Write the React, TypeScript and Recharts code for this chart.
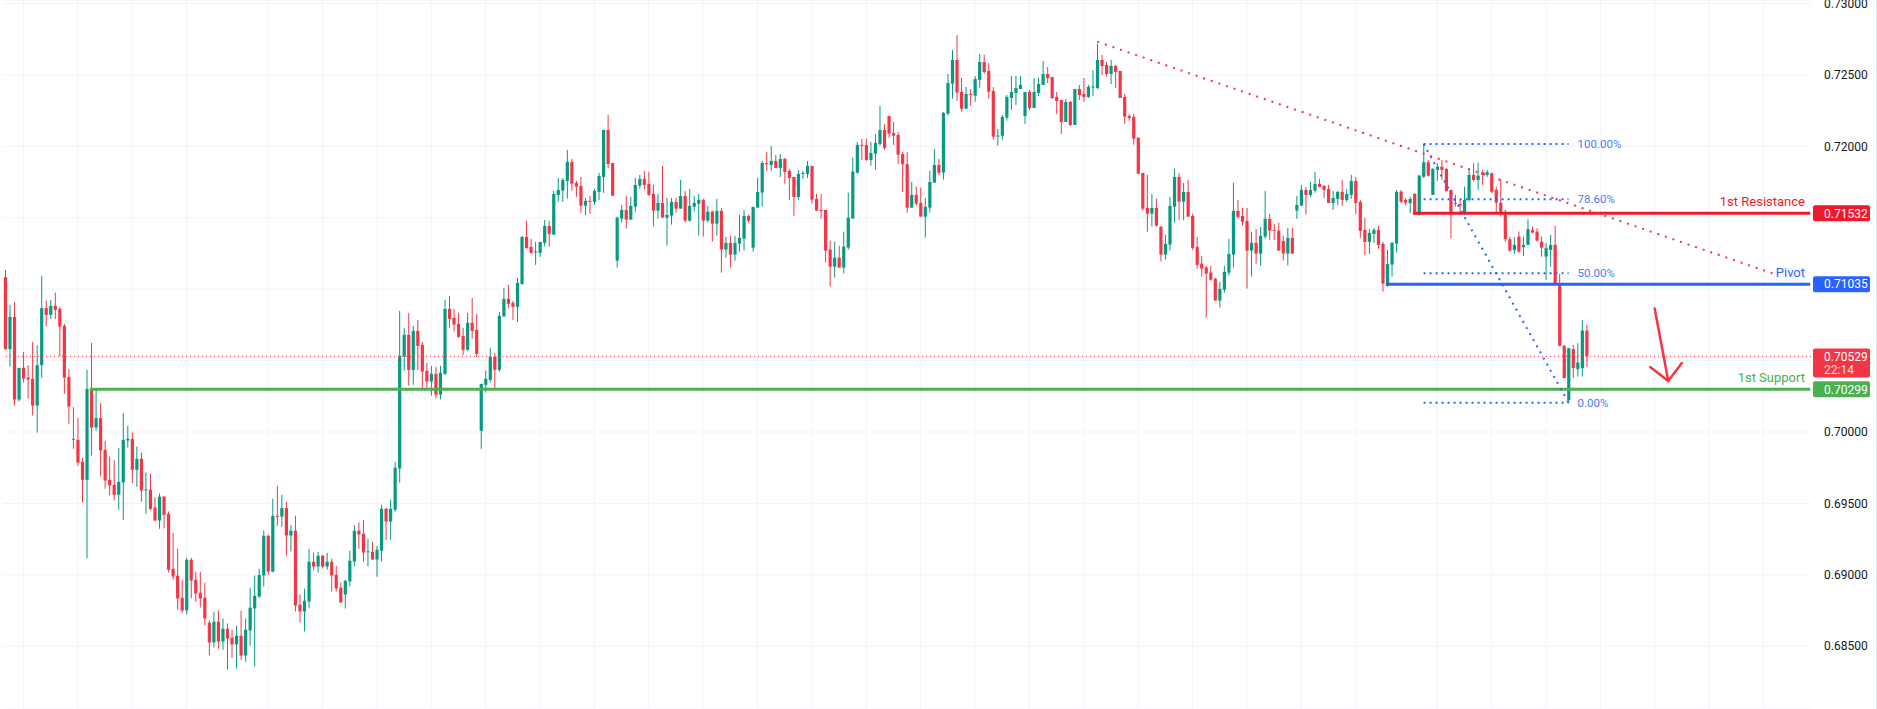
import React from "react";
import { ComposedChart, Bar, XAxis, YAxis, CartesianGrid, ReferenceLine } from "recharts";

// 2h candles, oldest first
const opens = [
  0.71084, 0.70580, 0.70806, 0.70227, 0.70449, 0.70381, 0.70372, 0.70185, 0.70468, 0.70867,
  0.70820, 0.70883, 0.70862, 0.70743, 0.70386, 0.69952, 0.69945, 0.69791, 0.69665, 0.70302,
  0.70031, 0.70097, 0.69875, 0.69665, 0.69630, 0.69560, 0.69646, 0.69940, 0.69950, 0.69735,
  0.69812, 0.69595, 0.69595, 0.69471, 0.69380, 0.69546, 0.69427, 0.69042, 0.68993, 0.68839,
  0.68750, 0.69105, 0.68965, 0.68874, 0.68839, 0.68664, 0.68526, 0.68671, 0.68533, 0.68622,
  0.68559, 0.68512, 0.68573, 0.68435, 0.68610, 0.68764, 0.68848, 0.68995, 0.69273, 0.69023,
  0.69413, 0.69408, 0.69467, 0.69275, 0.69308, 0.68790, 0.68743, 0.68813, 0.69091, 0.69058,
  0.69133, 0.69058, 0.69091, 0.69000, 0.68909, 0.68862, 0.68953, 0.69093, 0.69308, 0.69287,
  0.69161, 0.69161, 0.69107, 0.69168, 0.69462, 0.69373, 0.69455, 0.69744, 0.70528, 0.70680,
  0.70435, 0.70708, 0.70610, 0.70428, 0.70353, 0.70407, 0.70262, 0.70407, 0.70862, 0.70799,
  0.70757, 0.70673, 0.70575, 0.70764, 0.70715, 0.70008, 0.70330, 0.70365, 0.70528, 0.70435,
  0.70808, 0.70932, 0.70904, 0.70876, 0.71037, 0.71366, 0.71296, 0.71261, 0.71254, 0.71324,
  0.71443, 0.71382, 0.71660, 0.71690, 0.71758, 0.71891, 0.71744, 0.71723, 0.71585, 0.71618,
  0.71611, 0.71681, 0.71786, 0.72115, 0.71884, 0.71200, 0.71494, 0.71555, 0.71487, 0.71578,
  0.71725, 0.71772, 0.71737, 0.71667, 0.71550, 0.71604, 0.71501, 0.71515, 0.71611, 0.71564,
  0.71653, 0.71480, 0.71578, 0.71599, 0.71625, 0.71480, 0.71543, 0.71459, 0.71548, 0.71277,
  0.71324, 0.71242, 0.71319, 0.71354, 0.71513, 0.71291, 0.71571, 0.71676, 0.71884, 0.71870,
  0.71898, 0.71849, 0.71912, 0.71828, 0.71786, 0.71646, 0.71807, 0.71807, 0.71863, 0.71632,
  0.71555, 0.71555, 0.71277, 0.71158, 0.71221, 0.71151, 0.71291, 0.71494, 0.71816, 0.72010,
  0.72010, 0.71905, 0.71949, 0.72017, 0.72115, 0.72213, 0.72094, 0.72080, 0.71947, 0.71875,
  0.71571, 0.71660, 0.71604, 0.71508, 0.71571, 0.71746, 0.71870, 0.71816, 0.72229, 0.72439,
  0.72605, 0.72381, 0.72264, 0.72367, 0.72355, 0.72465, 0.72591, 0.72528, 0.72388, 0.72073,
  0.72075, 0.72201, 0.72339, 0.72374, 0.72402, 0.72213, 0.72381, 0.72269, 0.72374, 0.72430,
  0.72507, 0.72486, 0.72346, 0.72325, 0.72171, 0.72311, 0.72150, 0.72402, 0.72367, 0.72346,
  0.72416, 0.72409, 0.72605, 0.72570, 0.72507, 0.72563, 0.72528, 0.72346, 0.72213, 0.72206,
  0.72061, 0.71814, 0.71569, 0.71529, 0.71569, 0.71438, 0.71242, 0.71312, 0.71578, 0.71786,
  0.71613, 0.71681, 0.71513, 0.71296, 0.71179, 0.71151, 0.71116, 0.71072, 0.70920, 0.70997,
  0.71116, 0.71242, 0.71548, 0.71513, 0.71478, 0.71270, 0.71324, 0.71249, 0.71368, 0.71492,
  0.71415, 0.71410, 0.71338, 0.71249, 0.71359, 0.71550, 0.71585, 0.71695, 0.71660, 0.71690,
  0.71737, 0.71723, 0.71702, 0.71604, 0.71632, 0.71681, 0.71625, 0.71660, 0.71758, 0.71611,
  0.71415, 0.71331, 0.71387, 0.71415, 0.71317, 0.71025, 0.71172, 0.71319, 0.71683, 0.71625,
  0.71602, 0.71667, 0.71520, 0.71788, 0.71889, 0.71660, 0.71840, 0.71858, 0.71842, 0.71695,
  0.71604, 0.71597, 0.71532, 0.71625, 0.71800, 0.71765, 0.71819, 0.71800, 0.71812, 0.71695,
  0.71606, 0.71520, 0.71350, 0.71275, 0.71368, 0.71294, 0.71310, 0.71415, 0.71403, 0.71333,
  0.71228, 0.71275, 0.71310, 0.71030, 0.70603, 0.70225, 0.70580, 0.70440, 0.70447, 0.70710,
];

const highs = [
  0.71135, 0.70890, 0.70909, 0.70449, 0.70561, 0.70468, 0.70631, 0.70608, 0.71093, 0.70920,
  0.70925, 0.70976, 0.70878, 0.70757, 0.70442, 0.70174, 0.70097, 0.69819, 0.70435, 0.70624,
  0.70295, 0.70202, 0.69938, 0.69828, 0.69805, 0.69889, 0.70132, 0.70043, 0.69996, 0.69898,
  0.69856, 0.69716, 0.69707, 0.69544, 0.69569, 0.69553, 0.69443, 0.69294, 0.69182, 0.68965,
  0.69119, 0.69119, 0.69021, 0.69021, 0.68944, 0.68680, 0.68741, 0.68750, 0.68694, 0.68659,
  0.68615, 0.68643, 0.68748, 0.68694, 0.68909, 0.68995, 0.69042, 0.69310, 0.69280, 0.69532,
  0.69623, 0.69560, 0.69511, 0.69348, 0.69413, 0.68860, 0.68902, 0.69182, 0.69154, 0.69161,
  0.69140, 0.69154, 0.69112, 0.69063, 0.68946, 0.68965, 0.69168, 0.69348, 0.69366, 0.69385,
  0.69252, 0.69231, 0.69203, 0.69490, 0.69469, 0.69525, 0.69791, 0.70848, 0.70729, 0.70834,
  0.70743, 0.70785, 0.70631, 0.70484, 0.70463, 0.70456, 0.70463, 0.70925, 0.70953, 0.70862,
  0.70834, 0.70729, 0.70834, 0.70939, 0.70827, 0.70337, 0.70428, 0.70589, 0.70554, 0.70841,
  0.71009, 0.71030, 0.70918, 0.71079, 0.71373, 0.71478, 0.71352, 0.71331, 0.71331, 0.71485,
  0.71478, 0.71688, 0.71779, 0.71779, 0.71975, 0.71912, 0.71758, 0.71786, 0.71639, 0.71653,
  0.71702, 0.71814, 0.72115, 0.72220, 0.71884, 0.71508, 0.71590, 0.71653, 0.71646, 0.71779,
  0.71800, 0.71828, 0.71821, 0.71730, 0.71667, 0.71863, 0.71639, 0.71639, 0.71639, 0.71765,
  0.71688, 0.71702, 0.71653, 0.71667, 0.71632, 0.71583, 0.71550, 0.71632, 0.71569, 0.71366,
  0.71373, 0.71373, 0.71520, 0.71555, 0.71520, 0.71576, 0.71779, 0.71898, 0.71961, 0.72003,
  0.71940, 0.71947, 0.71919, 0.71842, 0.71786, 0.71835, 0.71828, 0.71898, 0.71863, 0.71667,
  0.71667, 0.71555, 0.71340, 0.71333, 0.71305, 0.71403, 0.71676, 0.71921, 0.72031, 0.72052,
  0.72052, 0.72031, 0.72087, 0.72283, 0.72157, 0.72213, 0.72171, 0.72101, 0.71961, 0.71961,
  0.71751, 0.71718, 0.71711, 0.71639, 0.71828, 0.71982, 0.71912, 0.72241, 0.72507, 0.72675,
  0.72780, 0.72479, 0.72416, 0.72402, 0.72493, 0.72647, 0.72640, 0.72584, 0.72416, 0.72122,
  0.72220, 0.72360, 0.72493, 0.72493, 0.72493, 0.72381, 0.72395, 0.72479, 0.72479, 0.72598,
  0.72556, 0.72486, 0.72381, 0.72325, 0.72332, 0.72318, 0.72402, 0.72430, 0.72479, 0.72430,
  0.72535, 0.72717, 0.72640, 0.72591, 0.72605, 0.72570, 0.72528, 0.72367, 0.72227, 0.72227,
  0.72061, 0.71814, 0.71800, 0.71667, 0.71632, 0.71438, 0.71380, 0.71646, 0.71842, 0.71814,
  0.71744, 0.71765, 0.71527, 0.71366, 0.71233, 0.71163, 0.71163, 0.71081, 0.71051, 0.71163,
  0.71352, 0.71744, 0.71625, 0.71569, 0.71569, 0.71403, 0.71422, 0.71436, 0.71688, 0.71527,
  0.71457, 0.71466, 0.71373, 0.71429, 0.71429, 0.71653, 0.71730, 0.71716, 0.71751, 0.71821,
  0.71772, 0.71730, 0.71730, 0.71688, 0.71688, 0.71765, 0.71702, 0.71800, 0.71786, 0.71625,
  0.71499, 0.71422, 0.71429, 0.71443, 0.71331, 0.71275, 0.71331, 0.71695, 0.71695, 0.71637,
  0.71648, 0.71672, 0.71800, 0.72017, 0.71905, 0.71847, 0.71882, 0.71905, 0.71847, 0.71695,
  0.71660, 0.71625, 0.71718, 0.71847, 0.71882, 0.71886, 0.71835, 0.71835, 0.71816, 0.71718,
  0.71770, 0.71555, 0.71368, 0.71364, 0.71403, 0.71368, 0.71490, 0.71438, 0.71427, 0.71368,
  0.71322, 0.71380, 0.71443, 0.71107, 0.70610, 0.70587, 0.70610, 0.70622, 0.70785, 0.70750,
];

const lows = [
  0.70575, 0.70458, 0.70185, 0.70213, 0.70346, 0.70234, 0.70115, 0.69996, 0.70381, 0.70738,
  0.70792, 0.70790, 0.70528, 0.70267, 0.70057, 0.69882, 0.69763, 0.69506, 0.69114, 0.69835,
  0.70008, 0.69688, 0.69602, 0.69555, 0.69520, 0.69455, 0.69385, 0.69891, 0.69642, 0.69616,
  0.69511, 0.69427, 0.69450, 0.69376, 0.69322, 0.69324, 0.69016, 0.68965, 0.68755, 0.68732,
  0.68722, 0.68834, 0.68811, 0.68771, 0.68645, 0.68435, 0.68491, 0.68482, 0.68475, 0.68337,
  0.68417, 0.68344, 0.68405, 0.68391, 0.68503, 0.68358, 0.68837, 0.68918, 0.69000, 0.69016,
  0.69343, 0.69336, 0.69133, 0.69163, 0.68743, 0.68666, 0.68603, 0.68764, 0.69030, 0.69016,
  0.69044, 0.69035, 0.68883, 0.68883, 0.68806, 0.68764, 0.68918, 0.69058, 0.69182, 0.69091,
  0.69058, 0.69105, 0.68986, 0.69093, 0.69245, 0.69245, 0.69441, 0.69646, 0.70430, 0.70323,
  0.70330, 0.70435, 0.70295, 0.70307, 0.70255, 0.70234, 0.70227, 0.70400, 0.70729, 0.70703,
  0.70659, 0.70540, 0.70568, 0.70652, 0.70526, 0.69882, 0.70276, 0.70346, 0.70295, 0.70421,
  0.70808, 0.70869, 0.70785, 0.70771, 0.71030, 0.71282, 0.71247, 0.71170, 0.71226, 0.71298,
  0.71298, 0.71382, 0.71613, 0.71611, 0.71634, 0.71690, 0.71646, 0.71534, 0.71520, 0.71527,
  0.71590, 0.71625, 0.71674, 0.71849, 0.71653, 0.71151, 0.71466, 0.71424, 0.71487, 0.71543,
  0.71702, 0.71697, 0.71653, 0.71438, 0.71494, 0.71501, 0.71305, 0.71452, 0.71536, 0.71564,
  0.71466, 0.71473, 0.71543, 0.71375, 0.71368, 0.71466, 0.71333, 0.71375, 0.71116, 0.71221,
  0.71151, 0.71200, 0.71263, 0.71270, 0.71466, 0.71263, 0.71571, 0.71578, 0.71828, 0.71828,
  0.71849, 0.71786, 0.71739, 0.71625, 0.71513, 0.71625, 0.71772, 0.71779, 0.71599, 0.71550,
  0.71492, 0.71186, 0.71018, 0.71081, 0.71151, 0.71109, 0.71277, 0.71494, 0.71809, 0.71905,
  0.71898, 0.71865, 0.71837, 0.72003, 0.71975, 0.72061, 0.72010, 0.71877, 0.71681, 0.71536,
  0.71571, 0.71583, 0.71508, 0.71361, 0.71536, 0.71746, 0.71800, 0.71767, 0.72215, 0.72334,
  0.72320, 0.72243, 0.72264, 0.72285, 0.72313, 0.72411, 0.72509, 0.72334, 0.72047, 0.72005,
  0.72047, 0.72180, 0.72255, 0.72290, 0.72402, 0.72157, 0.72255, 0.72269, 0.72353, 0.72430,
  0.72444, 0.72332, 0.72227, 0.72087, 0.72171, 0.72143, 0.72150, 0.72325, 0.72311, 0.72339,
  0.72353, 0.72402, 0.72500, 0.72488, 0.72437, 0.72409, 0.72339, 0.72157, 0.72180, 0.72012,
  0.71809, 0.71550, 0.71401, 0.71438, 0.71438, 0.71193, 0.71207, 0.71270, 0.71466, 0.71485,
  0.71483, 0.71508, 0.71275, 0.71144, 0.71088, 0.70801, 0.71060, 0.70920, 0.70871, 0.70976,
  0.71095, 0.71151, 0.71492, 0.71445, 0.71004, 0.71088, 0.71179, 0.71165, 0.71354, 0.71345,
  0.71345, 0.71270, 0.71200, 0.71165, 0.71249, 0.71492, 0.71585, 0.71522, 0.71646, 0.71676,
  0.71716, 0.71639, 0.71604, 0.71555, 0.71590, 0.71583, 0.71611, 0.71632, 0.71527, 0.71359,
  0.71240, 0.71247, 0.71324, 0.71282, 0.70983, 0.71018, 0.71088, 0.71256, 0.71602, 0.71585,
  0.71532, 0.71520, 0.71515, 0.71777, 0.71788, 0.71660, 0.71758, 0.71765, 0.71683, 0.71357,
  0.71578, 0.71520, 0.71520, 0.71613, 0.71753, 0.71695, 0.71730, 0.71786, 0.71672, 0.71532,
  0.71508, 0.71333, 0.71263, 0.71247, 0.71252, 0.71233, 0.71310, 0.71392, 0.71333, 0.71228,
  0.71065, 0.71158, 0.71030, 0.70603, 0.70377, 0.70206, 0.70377, 0.70388, 0.70388, 0.70458,
];

const closes = [
  0.70580, 0.70806, 0.70227, 0.70449, 0.70374, 0.70367, 0.70185, 0.70468, 0.70867, 0.70820,
  0.70883, 0.70855, 0.70738, 0.70381, 0.70178, 0.69950, 0.69786, 0.69665, 0.70302, 0.70031,
  0.70097, 0.69870, 0.69660, 0.69625, 0.69560, 0.69651, 0.69945, 0.69952, 0.69735, 0.69812,
  0.69590, 0.69598, 0.69462, 0.69380, 0.69546, 0.69420, 0.69035, 0.68988, 0.68834, 0.68750,
  0.69105, 0.68960, 0.68869, 0.68834, 0.68694, 0.68526, 0.68671, 0.68533, 0.68622, 0.68554,
  0.68512, 0.68573, 0.68435, 0.68615, 0.68769, 0.68853, 0.68998, 0.69273, 0.69023, 0.69413,
  0.69408, 0.69467, 0.69275, 0.69308, 0.68785, 0.68743, 0.68818, 0.69091, 0.69058, 0.69133,
  0.69058, 0.69091, 0.68995, 0.68904, 0.68806, 0.68958, 0.69098, 0.69308, 0.69282, 0.69156,
  0.69164, 0.69107, 0.69175, 0.69462, 0.69373, 0.69462, 0.69749, 0.70533, 0.70680, 0.70435,
  0.70708, 0.70603, 0.70423, 0.70353, 0.70407, 0.70262, 0.70414, 0.70862, 0.70792, 0.70752,
  0.70666, 0.70575, 0.70764, 0.70708, 0.70547, 0.70337, 0.70372, 0.70528, 0.70435, 0.70813,
  0.70932, 0.70897, 0.70876, 0.71044, 0.71366, 0.71289, 0.71254, 0.71265, 0.71331, 0.71443,
  0.71387, 0.71667, 0.71695, 0.71765, 0.71891, 0.71739, 0.71718, 0.71585, 0.71618, 0.71611,
  0.71688, 0.71793, 0.72115, 0.71877, 0.71655, 0.71501, 0.71555, 0.71487, 0.71583, 0.71730,
  0.71772, 0.71730, 0.71660, 0.71550, 0.71604, 0.71501, 0.71520, 0.71611, 0.71564, 0.71653,
  0.71480, 0.71583, 0.71604, 0.71625, 0.71480, 0.71543, 0.71459, 0.71548, 0.71277, 0.71324,
  0.71242, 0.71324, 0.71359, 0.71513, 0.71480, 0.71576, 0.71681, 0.71884, 0.71879, 0.71898,
  0.71849, 0.71912, 0.71821, 0.71779, 0.71646, 0.71807, 0.71814, 0.71863, 0.71627, 0.71550,
  0.71550, 0.71270, 0.71158, 0.71221, 0.71151, 0.71298, 0.71501, 0.71823, 0.72010, 0.72003,
  0.71905, 0.71954, 0.72024, 0.72115, 0.71989, 0.72089, 0.72075, 0.71942, 0.71875, 0.71571,
  0.71660, 0.71599, 0.71508, 0.71576, 0.71751, 0.71870, 0.71816, 0.72234, 0.72444, 0.72605,
  0.72376, 0.72264, 0.72367, 0.72360, 0.72472, 0.72591, 0.72521, 0.72383, 0.72068, 0.72076,
  0.72206, 0.72346, 0.72381, 0.72409, 0.72430, 0.72381, 0.72269, 0.72381, 0.72437, 0.72507,
  0.72479, 0.72339, 0.72318, 0.72171, 0.72311, 0.72150, 0.72402, 0.72360, 0.72346, 0.72416,
  0.72419, 0.72605, 0.72563, 0.72507, 0.72563, 0.72521, 0.72339, 0.72208, 0.72199, 0.72054,
  0.71809, 0.71564, 0.71529, 0.71569, 0.71445, 0.71242, 0.71317, 0.71583, 0.71786, 0.71613,
  0.71681, 0.71508, 0.71289, 0.71170, 0.71144, 0.71109, 0.71067, 0.70920, 0.71002, 0.71121,
  0.71247, 0.71548, 0.71506, 0.71473, 0.71270, 0.71324, 0.71249, 0.71373, 0.71492, 0.71410,
  0.71408, 0.71270, 0.71249, 0.71359, 0.71249, 0.71590, 0.71695, 0.71660, 0.71695, 0.71737,
  0.71716, 0.71695, 0.71604, 0.71639, 0.71681, 0.71625, 0.71667, 0.71758, 0.71604, 0.71408,
  0.71331, 0.71394, 0.71415, 0.71310, 0.71039, 0.71177, 0.71324, 0.71681, 0.71613, 0.71606,
  0.71632, 0.71532, 0.71795, 0.71889, 0.71795, 0.71842, 0.71858, 0.71835, 0.71688, 0.71536,
  0.71597, 0.71585, 0.71625, 0.71800, 0.71765, 0.71795, 0.71800, 0.71819, 0.71683, 0.71606,
  0.71527, 0.71350, 0.71270, 0.71310, 0.71263, 0.71310, 0.71420, 0.71396, 0.71340, 0.71291,
  0.71287, 0.71310, 0.71030, 0.70603, 0.70377, 0.70587, 0.70447, 0.70486, 0.70710, 0.70529,
];

// number of bar slots on the time axis (candles + empty space on the right)
const slots = 399;
const priceTicks = [0.685, 0.69, 0.695, 0.7, 0.705, 0.71, 0.715, 0.72, 0.725, 0.73];
// axis labels covered by the price tags in the screenshot (grid line still drawn)
const hiddenTicks = [0.705, 0.71, 0.715];
const dayLines = [
  4, 16, 28, 40, 58, 70, 82, 94, 106, 118, 130, 142, 154, 166, 178, 190, 202, 214, 226, 238,
  250, 262, 274, 286, 298, 316, 328, 340, 352, 364, 376, 388,
];

const lastPrice = 0.70529;
const countdown = "22:14";

const levelNames = ["1st Resistance", "Pivot", "1st Support"];
const levelPrices = [0.71532, 0.71035, 0.70299];
const levelStarts = [311, 305, 19];
const levelColors = ["#f0182c", "#2962ff", "#4caf50"];

const fibLabels = ["100.00%", "78.60%", "50.00%", "0.00%"];
const fibPrices = [0.72017, 0.71629, 0.71111, 0.70205];
const fibStart = 313;
const fibEnd = 345;

const trendLine = [
  { x: 241, y: 0.72733 },
  { x: 390, y: 0.71111 },
];
const arrowShaft = [
  { x: 364, y: 0.70865 },
  { x: 367, y: 0.70357 },
];
const arrowLeft = [
  { x: 363, y: 0.70455 },
  { x: 367, y: 0.70357 },
];
const arrowRight = [
  { x: 367, y: 0.70357 },
  { x: 370, y: 0.70483 },
];

const UP = "#089981";
const DOWN = "#f23645";
const GRID = "#f0f3fa";
const FIB = "#2962ff";

const rows = Array.from({ length: slots }, (_, i) =>
  i < opens.length
    ? { i, o: opens[i], h: highs[i], l: lows[i], c: closes[i], range: [lows[i], highs[i]] }
    : { i }
);

const Candle = (props: any) => {
  const { x, y, width, height, payload } = props;
  if (!payload || payload.o == null || !Number.isFinite(y) || !Number.isFinite(height)) return <g />;
  const { o, h, l, c } = payload;
  const color = c >= o ? UP : DOWN;
  const top = Math.min(y, y + height);
  const span = Math.abs(height);
  const ppu = h > l ? span / (h - l) : 0;
  const yOf = (v: number) => top + (h - v) * ppu;
  const cx = x + width / 2;
  const bodyTop = yOf(Math.max(o, c));
  const bodyH = Math.max(1, yOf(Math.min(o, c)) - bodyTop);
  return (
    <g>
      <line x1={cx} x2={cx} y1={top} y2={top + span} stroke={color} strokeWidth={1} />
      <rect x={cx - 1.6} y={bodyTop} width={3.2} height={bodyH} fill={color} />
    </g>
  );
};

const LevelTag = ({ viewBox, name, price, color }: any) => {
  if (!viewBox) return null;
  const right = viewBox.x + viewBox.width;
  const y = viewBox.y;
  return (
    <g>
      <text x={right - 6} y={y - 7} textAnchor="end" fill={color} fontSize={13}>
        {name}
      </text>
      <rect x={right + 2} y={y - 8} width={57} height={16} rx={2} fill={color} />
      <text x={right + 13} y={y} dy="0.36em" fill="#ffffff" fontSize={12}>
        {price.toFixed(5)}
      </text>
    </g>
  );
};

const LastTag = ({ viewBox }: any) => {
  if (!viewBox) return null;
  const right = viewBox.x + viewBox.width;
  const y = viewBox.y;
  return (
    <g>
      <rect x={right + 2} y={y - 8} width={57} height={29} rx={2} fill={DOWN} />
      <text x={right + 13} y={y} dy="0.36em" fill="#ffffff" fontSize={12}>
        {lastPrice.toFixed(5)}
      </text>
      <text x={right + 13} y={y + 13} dy="0.36em" fill="#ffffff" fillOpacity={0.85} fontSize={12}>
        {countdown}
      </text>
    </g>
  );
};

export default function App() {
  return (
    <div
      style={{
        position: "absolute",
        left: 0,
        top: 0,
        width: 1877,
        height: 709,
        background: "#ffffff",
        overflow: "hidden",
        fontFamily: "Roboto, 'Noto Sans', sans-serif",
      }}
    >
      <ComposedChart
        width={1877}
        height={709}
        data={rows}
        margin={{ top: 0, right: 0, bottom: 0, left: 3 }}
      >
        <CartesianGrid stroke={GRID} vertical={false} />
        <XAxis dataKey="i" type="category" hide />
        <YAxis
          orientation="right"
          width={66}
          domain={[0.6806, 0.73025]}
          allowDataOverflow
          ticks={priceTicks}
          interval={0}
          tickFormatter={(v: number) =>
            hiddenTicks.some((t) => Math.abs(t - v) < 1e-6) ? "" : v.toFixed(5)
          }
          axisLine={false}
          tickLine={false}
          tickSize={6}
          tickMargin={7}
          tick={{ fill: "#131722", fontSize: 12 }}
        />
        {dayLines.map((d) => (
          <ReferenceLine key={"d" + d} x={d} stroke={GRID} strokeWidth={1} {...({ zIndex: 0 } as any)} />
        ))}
        <Bar dataKey="range" isAnimationActive={false} shape={(p: any) => <Candle {...p} />} />

        <ReferenceLine
          y={lastPrice}
          stroke={DOWN}
          strokeWidth={1}
          strokeDasharray="1 3"
          label={(p: any) => <LastTag viewBox={p.viewBox} />}
        />

        {levelPrices.map((price, k) => (
          <ReferenceLine
            key={"lv" + k}
            segment={[
              { x: levelStarts[k], y: price },
              { x: slots - 1, y: price },
            ]}
            stroke={levelColors[k]}
            strokeWidth={3}
            strokeLinecap="square"
          />
        ))}
        {levelPrices.map((price, k) => (
          <ReferenceLine
            key={"lt" + k}
            y={price}
            stroke="none"
            strokeOpacity={0}
            label={(p: any) => (
              <LevelTag viewBox={p.viewBox} name={levelNames[k]} price={price} color={levelColors[k]} />
            )}
          />
        ))}

        {fibPrices.map((price, k) => (
          <ReferenceLine
            key={"fb" + k}
            segment={[
              { x: fibStart, y: price },
              { x: fibEnd, y: price },
            ]}
            stroke={FIB}
            strokeWidth={2}
            strokeDasharray="2 4"
            label={{ value: fibLabels[k], position: "right", offset: 9, fill: "#4a7cf7", fontSize: 11.5 }}
          />
        ))}
        <ReferenceLine
          segment={[
            { x: fibStart, y: fibPrices[0] },
            { x: fibEnd, y: fibPrices[3] },
          ]}
          stroke={FIB}
          strokeWidth={2}
          strokeDasharray="2 5"
        />

        <ReferenceLine segment={trendLine} stroke={DOWN} strokeWidth={2} strokeDasharray="2 6" />

        <ReferenceLine segment={arrowShaft} stroke={DOWN} strokeWidth={2.5} strokeLinecap="round" />
        <ReferenceLine segment={arrowLeft} stroke={DOWN} strokeWidth={2.5} strokeLinecap="round" />
        <ReferenceLine segment={arrowRight} stroke={DOWN} strokeWidth={2.5} strokeLinecap="round" />
      </ComposedChart>
      <div
        style={{ position: "absolute", right: 0, top: 0, width: 1, height: 709, background: "#e0e3eb" }}
      />
    </div>
  );
}
